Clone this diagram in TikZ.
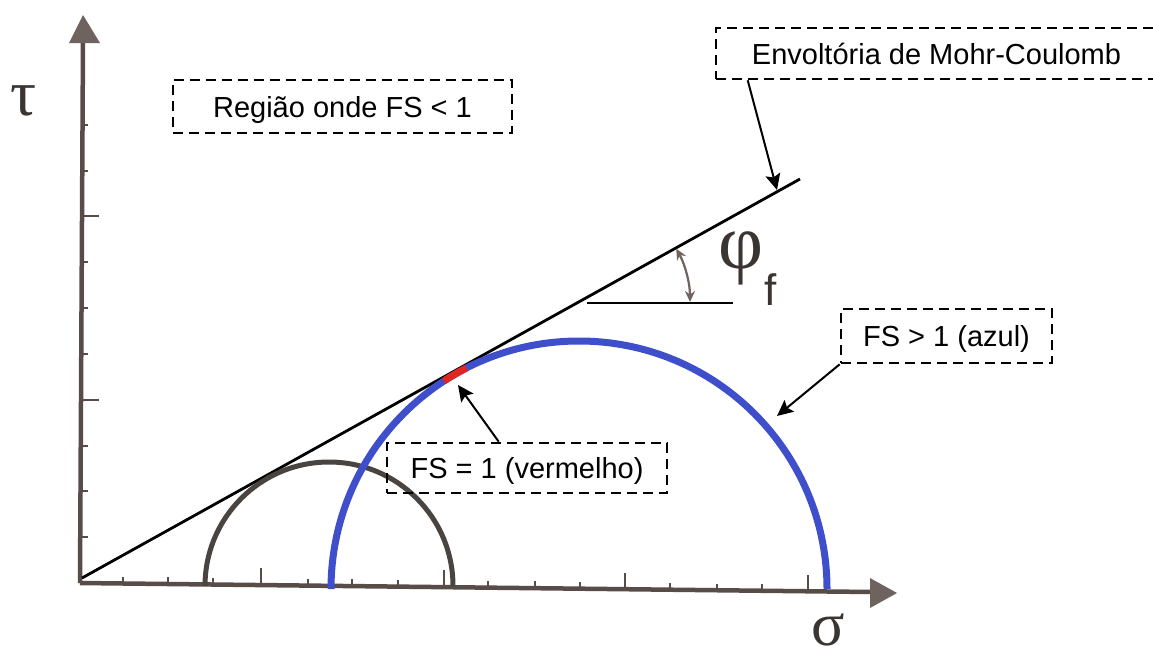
\documentclass[tikz,border=0pt]{standalone}
\usepackage{fontspec}
\setmainfont{Liberation Sans}
\newfontfamily\grk{Liberation Serif}
\usetikzlibrary{arrows.meta,calc}
\definecolor{axisc}{HTML}{574C47}
\definecolor{headc}{HTML}{6E635F}
\definecolor{circc}{HTML}{4A4440}
\definecolor{bluec}{HTML}{3F4FCB}
\definecolor{redc}{HTML}{E0261F}
\definecolor{glyphc}{HTML}{3A3532}
\begin{document}
\begin{tikzpicture}[x=1pt,y=-1pt,
  lbl/.style={draw=black, dash pattern=on 10pt off 6pt, line width=2.6pt,
    font=\fontsize{29}{34}\selectfont, text height=21pt, text depth=0pt,
    inner sep=0pt, align=center},
  callout/.style={line width=2pt, -{Stealth[length=16pt,width=15pt,inset=3pt]}},
  tickmark/.style={line width=2.2pt, draw=axisc},
  axisline/.style={draw=axisc, line width=4.5pt},
  greek/.style={inner sep=0pt, text=glyphc},
  anglearrow/.style={draw=headc, line width=2.2pt,
    {Stealth[length=11pt,width=10pt]}-{Stealth[length=11pt,width=10pt]}}
]
\useasboundingbox (0,0) rectangle (1153,659);
\clip (0,0) rectangle (1153,659);
\fill[white] (0,0) rectangle (1153,659);

% axes
\coordinate (O) at (80,583);
\coordinate (Ytip) at (83,15);
\coordinate (Xtip) at (897,593);
\coordinate (Ybase) at (83,40);
\coordinate (Xbase) at (872,592);
\draw[axisline] (O) -- (Ybase);
\draw[axisline] (O) -- (Xbase);
\fill[headc] (Ytip) -- (69,43) -- (100,43) -- cycle;
\fill[headc] (Xtip) -- (870,578) -- (870,608) -- cycle;

% ticks
\foreach \y/\l in {537/7,491/7,446/7,400/18,354/7,308/7,262/7,216/18,171/7,125/7}
  \draw[tickmark] (81,\y) -- ++(\l,0);
\foreach \x/\l in {123/7,168/7,213/7,261/17,308/7,352/7,398/7,444/17,488/7,535/7,580/7,625/17,670/7,717/7,762/7,808/17}
  \draw[tickmark] (\x,{583+0.012*(\x-80)}) -- ++(0,-\l);

% envelope
\coordinate (E0) at (82,578);
\coordinate (E1) at (800,179);
\draw[line width=2.8pt] (E0) -- (E1);

% circles
\draw[circc, line width=5pt] (205,586) arc[start angle=180,end angle=360,radius=124];
\coordinate (Bc) at (579,589);
\draw[bluec, line width=7pt] (331,589) arc[start angle=180,end angle=360,radius=248];
\draw[redc, line width=7pt] ($(Bc)+(237:248)$) arc[start angle=237,end angle=243,radius=248];

% friction angle
\coordinate (Ac) at (580,302);
\coordinate (H0) at (587,303);
\coordinate (H1) at (733,303);
\draw[line width=2pt] (H0) -- (H1);
\draw[anglearrow] ($(Ac)+(-29:110)$) arc[start angle=-29,end angle=0,radius=110];

% labels
\node[lbl, minimum width=339pt, minimum height=53pt] (reg) at (342.5,106.5) {Região onde FS < 1};
\node[lbl, minimum width=441pt, minimum height=51pt] (env) at (936.5,53.5) {Envoltória de Mohr-Coulomb};
\node[lbl, minimum width=280pt, minimum height=50pt] (fs1) at (527,468) {FS = 1 (vermelho)};
\node[lbl, minimum width=211pt, minimum height=54pt] (fsg) at (946.5,336) {FS > 1 (azul)};

% callouts
\coordinate (envtip) at (777,190);
\coordinate (bluetip) at (777,416);
\coordinate (redtip) at (458,385);
\draw[callout] ([xshift=33pt]env.south west) -- (envtip);
\draw[callout] (fsg.south west) -- (bluetip);
\draw[callout] ([xshift=113pt]fs1.north west) -- (redtip);

% symbols
\node[greek, anchor=base, font=\grk\fontsize{65}{70}\selectfont] (tau) at (24,115) {τ};
\node[greek, anchor=base, font=\grk\fontsize{62}{66}\selectfont] (sigma) at (828,645) {σ};
\node[greek, anchor=base west, font=\grk\fontsize{78}{82}\selectfont] (phi) at (718,268) {φ};
\node[greek, anchor=base west, font=\fontsize{44}{48}\selectfont] (fsub) at (764,305) {f};
\end{tikzpicture}
\end{document}
